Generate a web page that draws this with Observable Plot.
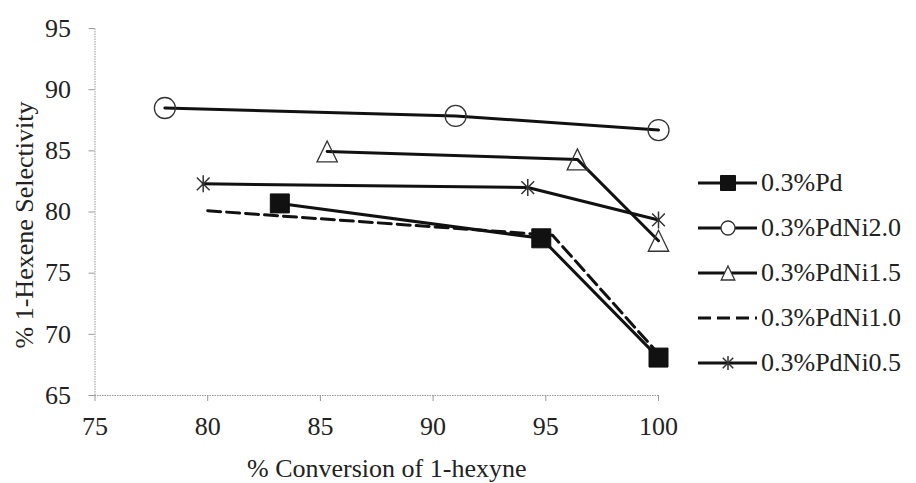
<!DOCTYPE html>
<html><head><meta charset="utf-8">
<script src="https://cdn.jsdelivr.net/npm/d3@7"></script>
<script src="https://cdn.jsdelivr.net/npm/@observablehq/plot@0.6"></script>
<style>
body{margin:0;background:#fff;}
#wrap{position:relative;width:916px;height:483px;font-family:"Liberation Serif","Times New Roman",serif;color:#222;}
#legend{position:absolute;left:698px;top:0;}
.row{position:absolute;left:0;height:30px;display:flex;align-items:center;white-space:nowrap;font-size:26px;line-height:30px;}
.row svg{margin-right:3px;display:block}
</style></head><body><div id="wrap"></div>
<script>
// ---- data ----
const seriesNames = ["0.3%Pd", "0.3%PdNi2.0", "0.3%PdNi1.5", "0.3%PdNi1.0", "0.3%PdNi0.5"];
const pdX     = [83.2, 94.8, 100];   const pdY     = [80.7, 77.85, 68.1];
const pdNi20X = [78.1, 91.0, 100];   const pdNi20Y = [88.5, 87.85, 86.7];
const pdNi15X = [85.3, 96.4, 100];   const pdNi15Y = [84.95, 84.3, 77.65];
const pdNi10X = [80.0, 95.3, 100];   const pdNi10Y = [80.1, 78.1, 68.4];
const pdNi05X = [79.8, 94.2, 100];   const pdNi05Y = [82.3, 82.0, 79.35];
const xTicks = [75, 80, 85, 90, 95, 100];
const yTicks = [65, 70, 75, 80, 85, 90, 95];
const xLabel = "% Conversion of 1-hexyne";
const yLabel = "% 1-Hexene Selectivity";

// ---- symbols ----
const squareSym = {draw(c, s){const r = Math.sqrt(s/Math.PI); c.rect(-r, -r, 2*r, 2*r);}};
const triSym = {draw(c, s){const r = Math.sqrt(s/Math.PI); c.moveTo(0, -r); c.lineTo(r*0.97, r); c.lineTo(-r*0.97, r); c.closePath();}};
const starSym = {draw(c, s){const r = Math.sqrt(s/Math.PI); const d = r*0.75;
  c.moveTo(0, -r); c.lineTo(0, r); c.moveTo(-d, -d); c.lineTo(d, d); c.moveTo(d, -d); c.lineTo(-d, d);}};

const xs = [pdX, pdNi20X, pdNi15X, pdNi10X, pdNi05X];
const ys = [pdY, pdNi20Y, pdNi15Y, pdNi10Y, pdNi05Y];
const styles = [
  {dash: null, symbol: squareSym, r: 9.5, lr: 7.5, fill: "#111", stroke: "#111", sw: 1},
  {dash: null, symbol: "circle", r: 10.5, lr: 7, fill: "none", stroke: "#333", sw: 1.3},
  {dash: null, symbol: triSym, r: 10.5, lr: 7, fill: "none", stroke: "#333", sw: 1.3},
  {dash: "13,6", symbol: null},
  {dash: null, symbol: starSym, r: 8.5, lr: 7, fill: "none", stroke: "#333", sw: 1.5}
];
const rows = seriesNames.map((name, i) => xs[i].map((x, j) => ({series: name, x, y: ys[i][j]})));

const marks = [
  Plot.ruleX([xTicks[0]], {y1: yTicks[0], y2: yTicks[yTicks.length-1], stroke: "#999", strokeDasharray: "1.5,1"}),
  Plot.ruleY([yTicks[0]], {x1: xTicks[0], x2: xTicks[xTicks.length-1], stroke: "#999", strokeDasharray: "1.5,1"}),
  Plot.axisX({ticks: xTicks, tickSize: 6, tickPadding: 15, tickFormat: d => d, label: null, stroke: "#999", fill: "#222"}),
  Plot.axisY({ticks: yTicks, tickSize: 6, tickPadding: 18, tickFormat: d => d, label: null, stroke: "#999", fill: "#222"}),
  Plot.text([xLabel], {frameAnchor: "bottom", dy: 73, dx: 10, text: d => d, fill: "#222", textAnchor: "middle", lineAnchor: "middle"}),
  Plot.text([yLabel], {frameAnchor: "left", dx: -70, dy: 13, rotate: -90, text: d => d, fill: "#222", textAnchor: "middle", lineAnchor: "middle"})
];
rows.forEach((data, i) => {
  const st = styles[i];
  marks.push(Plot.line(data, {x: "x", y: "y", stroke: "#111", strokeWidth: 3, strokeDasharray: st.dash || undefined}));
  if (st.symbol) marks.push(Plot.dot(data, {x: "x", y: "y", symbol: st.symbol, r: st.r, fill: st.fill, stroke: st.stroke, strokeWidth: st.sw}));
});

const chart = Plot.plot({
  width: 916, height: 483,
  marginLeft: 94.5, marginRight: 258, marginTop: 28, marginBottom: 88,
  x: {domain: [xTicks[0], xTicks[xTicks.length-1]]},
  y: {domain: [yTicks[0], yTicks[yTicks.length-1]]},
  style: 'font-family: "Liberation Serif", "Times New Roman", serif; font-size: 26px; background: #fff; color: #222;',
  marks
});
const wrap = document.getElementById("wrap");
wrap.appendChild(chart);

// ---- legend ----
const legend = document.createElement("div");
legend.id = "legend";
const rowCenters = [183, 228, 273, 318, 363];
seriesNames.forEach((name, i) => {
  const st = styles[i];
  const row = document.createElement("div");
  row.className = "row";
  row.style.top = (rowCenters[i] - 15) + "px";
  const svg = d3.create("svg").attr("width", 60).attr("height", 30);
  svg.append("line").attr("x1", 0).attr("x2", 59).attr("y1", 15).attr("y2", 15)
    .attr("stroke", "#111").attr("stroke-width", 3).attr("stroke-dasharray", st.dash);
  if (st.symbol) {
    const sym = typeof st.symbol === "string" ? d3.symbolCircle : st.symbol;
    const r = st.lr;
    svg.append("path").attr("transform", "translate(30,15)")
      .attr("d", d3.symbol(sym, Math.PI * r * r)())
      .attr("fill", st.fill === "none" ? "#fff" : st.fill).attr("stroke", st.stroke).attr("stroke-width", st.sw);
  }
  row.appendChild(svg.node());
  const span = document.createElement("span");
  span.textContent = name;
  row.appendChild(span);
  legend.appendChild(row);
});
wrap.appendChild(legend);
</script></body></html>
